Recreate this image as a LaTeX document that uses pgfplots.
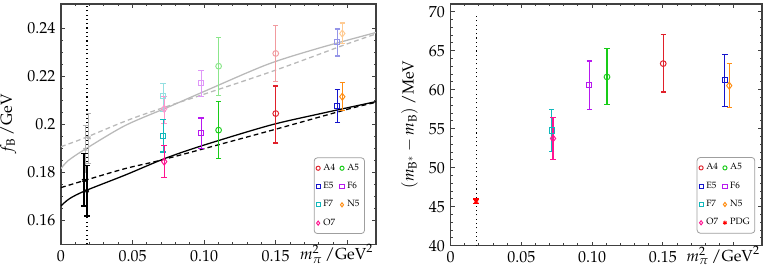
\documentclass[border=0pt]{standalone}
\usepackage[T1]{fontenc}
\usepackage{mathpazo}
\usepackage{pgfplots}
\pgfplotsset{compat=1.18}

\definecolor{cA4}{HTML}{E0202A}
\definecolor{cA5}{HTML}{18CC18}
\definecolor{cE5}{HTML}{1414CC}
\definecolor{cF6}{HTML}{B818F0}
\definecolor{cF7}{HTML}{10B8BC}
\definecolor{cN5}{HTML}{FF8C10}
\definecolor{cO7}{HTML}{FF1490}
\definecolor{framec}{HTML}{404040}

\pgfplotsset{
  common/.style={
    scale only axis, xmin=0, xmax=0.22,
    axis line style={framec, line width=0.8pt},
    every tick/.style={framec, line width=0.6pt},
    major tick length=2.6pt, minor tick length=1.5pt,
    tick align=inside,
    xtick={0,0.05,0.1,0.15,0.2},
    xticklabels={0,0.05,0.10,0.15,{}},
    minor x tick num=4,
    xlabel={$m_\pi^2\,/\mathrm{GeV}^2$},
    xlabel style={at={(rel axis cs:0.875,0)}, anchor=base, yshift=-9.6pt, inner sep=0pt},
    legend columns=2,
    legend cell align=left,
    legend style={font=\fontsize{5.7}{6.5}\selectfont, draw=gray!75, rounded corners=2pt,
      line width=0.5pt, inner xsep=1.2pt, inner ysep=1.8pt, row sep=2pt,
      /tikz/every even column/.append style={column sep=1pt},
      /tikz/every odd column/.append style={column sep=0pt}},
    legend image code/.code={\draw[#1, mark size=1.3pt] plot[only marks] coordinates {(0.07cm,0cm)};},
  },
  dp/.style={only marks, color=#1,
    mark options={solid, line width=0.6pt, fill=white, draw=#1},
    error bars/y dir=both, error bars/y explicit,
    error bars/error bar style={line width=0.8pt, color=#1, solid},
    error bars/error mark options={line width=0.8pt, mark size=1.7pt, rotate=90, color=#1}},
  circ/.style={mark=o, mark size=1.8pt},
  sq/.style={mark=square, mark size=1.6pt},
  dia/.style={mark=diamond, mark size=2.2pt},
}

\begin{document}
\begin{tikzpicture}
\path[use as bounding box] (0,0) rectangle (480pt,170.84pt);

% ---------------- left panel ----------------
\begin{axis}[common, at={(38.17pt,17.96pt)}, anchor=south west,
  width=197.1pt, height=150.4pt,
  ymin=0.15, ymax=0.25,
  ytick={0.16,0.18,0.2,0.22,0.24},
  minor y tick num=3,
  ylabel={$f_{\mathrm{B}}\,/\mathrm{GeV}$},
  legend style={at={(rel axis cs:0.965,0.043)}, anchor=south east},
]
% fit curves
\addplot[gray!55, line width=0.8pt, smooth, forget plot] coordinates {
 (0,0.1815) (0.005,0.1848) (0.0167,0.1895) (0.0448,0.1994) (0.0754,0.2072)
 (0.1,0.2136) (0.144,0.2248) (0.18,0.2316) (0.2211,0.2383)};
\addplot[gray!55, line width=0.8pt, dash pattern=on 3pt off 2pt, smooth, forget plot] coordinates {
 (0,0.1906) (0.0167,0.1943) (0.0448,0.2012) (0.0683,0.2062) (0.1458,0.2216) (0.2009,0.2336) (0.2211,0.2377)};
\addplot[black, line width=0.8pt, smooth, forget plot] coordinates {
 (0,0.1660) (0.006,0.1690) (0.0167,0.1722) (0.0448,0.1788) (0.073,0.1858)
 (0.1,0.1913) (0.1458,0.1995) (0.18,0.2042) (0.2211,0.2095)};
\addplot[black, line width=0.8pt, dash pattern=on 3pt off 2pt, smooth, forget plot] coordinates {
 (0,0.1736) (0.0167,0.1766) (0.0448,0.1815) (0.073,0.1855) (0.1458,0.1972) (0.2009,0.2063) (0.2211,0.2092)};
% physical point
\addplot[black, dotted, line width=0.7pt, forget plot] coordinates {(0.0182,0.15) (0.0182,0.25)};
% extrapolated values
\addplot[dp=gray!60, mark=asterisk, mark size=1.4pt, forget plot] coordinates {
 (0.0170,0.1895) += (0,0.0098) -= (0,0.0095)
 (0.0194,0.1943) += (0,0.0101) -= (0,0.0108)};
\addplot[dp=black, mark=asterisk, mark size=1.4pt, forget plot] coordinates {
 (0.0160,0.1766) += (0,0.0111) -= (0,0.0107)
 (0.0182,0.1722) += (0,0.0106) -= (0,0.0104)};
% light data
\addplot[dp=cA4!45!white, circ, forget plot] coordinates {(0.1500,0.2294) += (0,0.0117) -= (0,0.0117)};
\addplot[dp=cA5!50!white, circ, forget plot] coordinates {(0.1101,0.2241) += (0,0.0120) -= (0,0.0122)};
\addplot[dp=cE5!45!white, sq, forget plot] coordinates {(0.1930,0.2340) += (0,0.0056) -= (0,0.0056)};
\addplot[dp=cF6!45!white, sq, forget plot] coordinates {(0.0979,0.2172) += (0,0.0052) -= (0,0.0056)};
\addplot[dp=cF7!45!white, sq, forget plot] coordinates {(0.0714,0.2116) += (0,0.0053) -= (0,0.0062)};
\addplot[dp=cN5!45!white, dia, forget plot] coordinates {(0.1965,0.2377) += (0,0.0044) -= (0,0.0041)};
\addplot[dp=cO7!45!white, dia, forget plot] coordinates {(0.0721,0.2064) += (0,0.0052) -= (0,0.0061)};
% dark data
\addplot[dp=cA4, circ] coordinates {(0.1500,0.2044) += (0,0.0115) -= (0,0.0123)};
\addlegendentry{A4}
\addplot[dp=cA5, circ] coordinates {(0.1101,0.1975) += (0,0.0118) -= (0,0.0118)};
\addlegendentry{A5}
\addplot[dp=cE5, sq] coordinates {(0.1930,0.2075) += (0,0.0068) -= (0,0.0069)};
\addlegendentry{E5}
\addplot[dp=cF6, sq] coordinates {(0.0979,0.1963) += (0,0.0062) -= (0,0.0063)};
\addlegendentry{F6}
\addplot[dp=cF7, sq] coordinates {(0.0714,0.1950) += (0,0.0069) -= (0,0.0066)};
\addlegendentry{F7}
\addplot[dp=cN5, dia] coordinates {(0.1965,0.2114) += (0,0.0060) -= (0,0.0058)};
\addlegendentry{N5}
\addplot[dp=cO7, dia] coordinates {(0.0721,0.1844) += (0,0.0067) -= (0,0.0067)};
\addlegendentry{O7}
\end{axis}

% ---------------- right panel ----------------
\begin{axis}[common, at={(281.93pt,17.08pt)}, anchor=south west,
  width=195pt, height=151.3pt,
  ymin=40, ymax=71,
  ytick={40,45,...,70},
  minor y tick num=4,
  ylabel={$(m_{\mathrm{B}^*}-m_{\mathrm{B}})\,/\mathrm{MeV}$},
  legend style={at={(rel axis cs:0.978,0.05)}, anchor=south east},
]
\addplot[black, dotted, line width=0.7pt, forget plot] coordinates {(0.0182,40) (0.0182,69.6)};
\addplot[dp=cA4, circ] coordinates {(0.1502,63.35) += (0,3.73) -= (0,3.64)};
\addlegendentry{A4}
\addplot[dp=cA5, circ] coordinates {(0.1105,61.64) += (0,3.64) -= (0,3.56)};
\addlegendentry{A5}
\addplot[dp=cE5, sq] coordinates {(0.1937,61.25) += (0,3.26) -= (0,3.39)};
\addlegendentry{E5}
\addplot[dp=cF6, sq] coordinates {(0.0980,60.57) += (0,3.13) -= (0,3.13)};
\addlegendentry{F6}
\addplot[dp=cF7, sq] coordinates {(0.0715,54.78) += (0,2.66) -= (0,2.70)};
\addlegendentry{F7}
\addplot[dp=cN5, dia] coordinates {(0.1968,60.52) += (0,2.83) -= (0,2.83)};
\addlegendentry{N5}
\addplot[dp=cO7, dia] coordinates {(0.0724,53.75) += (0,2.66) -= (0,2.66)};
\addlegendentry{O7}
\addplot[dp=red, mark=asterisk, mark size=1.5pt] coordinates {(0.0181,45.69) += (0,0.3) -= (0,0.3)};
\addlegendentry{PDG}
\end{axis}
\end{tikzpicture}
\end{document}
